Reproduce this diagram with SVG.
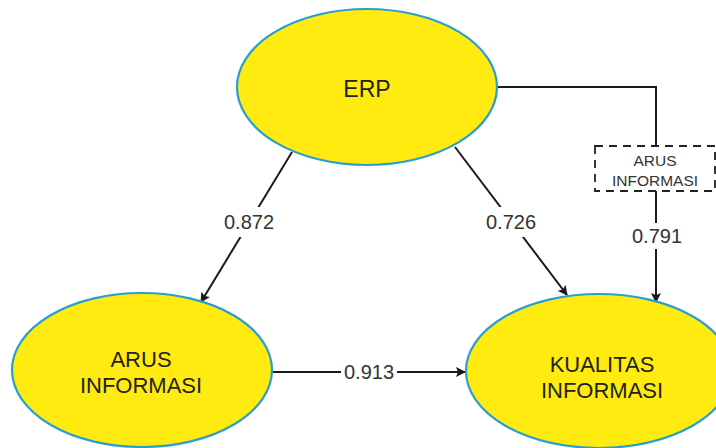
<svg xmlns="http://www.w3.org/2000/svg" width="716" height="448" viewBox="0 0 716 448">
<defs>
<marker id="arr" markerWidth="10" markerHeight="10" refX="9" refY="5" orient="auto" markerUnits="userSpaceOnUse">
<path d="M0,0 L10,5 L0,10 L2,5 Z" fill="#1a1a1a"/>
</marker>
<style>
.node{fill:#FFEB10;stroke:#2A9FCC;stroke-width:2.2}
.lbl{font-family:"Liberation Sans",Arial,sans-serif;font-size:22px;fill:#222;text-anchor:middle}
.num{font-family:"Liberation Sans",Arial,sans-serif;font-size:20px;fill:#333;text-anchor:middle}
.edge{fill:none;stroke:#1a1a1a;stroke-width:2}
.small{font-family:"Liberation Sans",Arial,sans-serif;font-size:15.5px;fill:#333;text-anchor:middle}
</style>
</defs>
<rect width="716" height="448" fill="#fff"/>
<g id="connectors">
<line class="edge" x1="292" y1="152" x2="201" y2="302" marker-end="url(#arr)"/>
<line class="edge" x1="455" y1="147" x2="567" y2="295" marker-end="url(#arr)"/>
<line class="edge" x1="272" y1="372" x2="465" y2="372" marker-end="url(#arr)"/>
<polyline class="edge" points="497,87 656,87 656,146"/>
<line class="edge" x1="656" y1="191" x2="656" y2="302" marker-end="url(#arr)"/>
<rect x="223" y="207" width="52" height="30" fill="#fff"/>
<text class="num" x="249" y="229">0.872</text>
<rect x="484" y="207" width="54" height="30" fill="#fff"/>
<text class="num" x="511" y="229">0.726</text>
<rect x="341" y="358" width="56" height="28" fill="#fff"/>
<text class="num" x="369" y="379">0.913</text>
<rect x="630" y="223" width="54" height="26" fill="#fff"/>
<text class="num" x="657" y="243">0.791</text>
</g>
<g id="erp">
<ellipse class="node" cx="367" cy="87" rx="130" ry="78"/>
<text class="lbl" x="367" y="97" style="font-size:23px">ERP</text>
</g>
<g id="arus">
<ellipse class="node" cx="142" cy="370" rx="130" ry="77"/>
<text class="lbl" x="141" y="367">ARUS</text>
<text class="lbl" x="141" y="393">INFORMASI</text>
</g>
<g id="kualitas">
<ellipse class="node" cx="599" cy="371" rx="133" ry="77"/>
<text class="lbl" x="602" y="372">KUALITAS</text>
<text class="lbl" x="602" y="398">INFORMASI</text>
</g>
<g id="moderator">
<rect x="595" y="146" width="120" height="45" fill="#fff" stroke="#222" stroke-width="1.8" stroke-dasharray="8,6"/>
<text class="small" x="655" y="166">ARUS</text>
<text class="small" x="655" y="186">INFORMASI</text>
</g>
</svg>
